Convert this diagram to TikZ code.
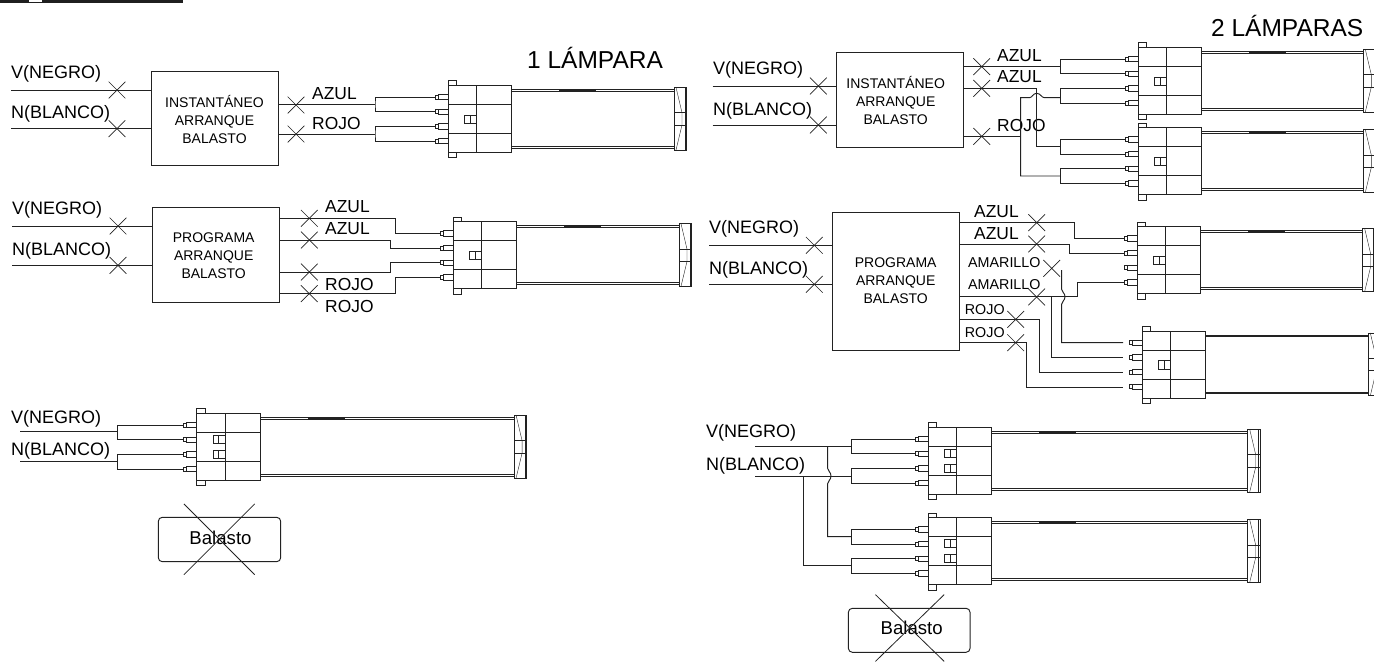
\documentclass[tikz,border=0pt]{standalone}
\usepackage{fontspec}
\setmainfont{Liberation Sans}
\usepackage{xcolor}
\usetikzlibrary{positioning, shapes.misc}

\definecolor{linea}{HTML}{222222}

\tikzset{
    cable/.style={draw=linea, line width=0.95pt},
    caja/.style={rectangle, draw=linea, line width=0.95pt, inner sep=0pt},
    corte/.style={cross out, draw=linea, line width=0.7pt, minimum width=16pt, minimum height=16pt, inner sep=0pt},
    tacha/.style={cross out, draw=linea, line width=0.8pt, minimum width=70pt, minimum height=70pt, inner sep=0pt},
    rotulo/.style={anchor=west, inner sep=0pt, text height=12.8pt, text depth=0pt, font=\fontsize{18}{18}\selectfont},
    medio/.style={anchor=west, inner sep=0pt, text height=12.4pt, text depth=0pt, font=\fontsize{17.4}{18}\selectfont},
    chico/.style={anchor=west, inner sep=0pt, text height=10.2pt, text depth=0pt, font=\fontsize{14.3}{18}\selectfont},
    titulo/.style={anchor=west, inner sep=0pt, text height=17pt, text depth=0pt, font=\fontsize{24.5}{24}\selectfont},
    rotbal/.style={align=center, inner sep=0pt, font=\fontsize{14}{18}\selectfont},
    pics/lampara/.style n args={2}{code={
        % cuerpo del conector
        \draw[cable] (0,0) rectangle (63.4,67);
        \draw[cable] (28.4,0) -- (28.4,67);
        \draw[cable] (0,19) -- (63.4,19);
        \draw[cable] (0,48) -- (63.4,48);
        \draw[cable] (0,-4.6) rectangle (8.4,0);
        \draw[cable] (0,67) rectangle (8.4,72.4);
        \foreach \y in {#2} {
            \draw[cable, line width=0.7pt] (16.4,\y) rectangle (28.4,\y+8.3);
            \draw[cable, line width=0.7pt] (22,\y) -- (22,\y+8.3);
        }
        % patas
        \foreach \i/\p in {1/11.7, 2/26.4, 3/41, 4/55.7} {
            \draw[cable, line width=0.7pt] (-13.3,\p-2) rectangle (-10,\p+2);
            \draw[cable, line width=0.7pt] (-10,\p-2.6) rectangle (0,\p+2.6);
            \coordinate (-p\i) at (-13.3,\p);
        }
        % tubo
        \draw[cable] (63.4,4) -- (63.4+#1,4);
        \draw[cable, line width=0.6pt] (63.4,5.6) -- (63.4+#1,5.6);
        \draw[cable, line width=1.3pt] (111,4.7) -- (148,4.7);
        \draw[cable] (63.4,61) -- (63.4+#1,61);
        \draw[cable, line width=0.6pt] (63.4,62.6) -- (63.4+#1,62.6);
        % tapa
        \draw[cable] (63.4+#1,2) rectangle (75.9+#1,64.7);
        \draw[cable] (74.4+#1,2) -- (74.4+#1,64.7);
        \draw[cable, line width=0.6pt] (63.4+#1,27.4) -- (75.9+#1,27.4);
        \draw[cable, line width=0.6pt] (63.4+#1,39.7) -- (75.9+#1,39.7);
        \draw[cable, line width=0.4pt] (65.4+#1,2) -- (71.4+#1,27.4) -- (71.4+#1,39.7) -- (65.4+#1,64.7);
    }},
}

\begin{document}
\begin{tikzpicture}[x=1pt, y=-1pt]
    \useasboundingbox (0,0) rectangle (1374,662);

    \fill[black!88] (0,0) rectangle (183,3);
    \fill[white] (29,0) rectangle (42,1.6);

    \node[titulo] (tit1) at (527,60) {1 LÁMPARA};
    \node[titulo] (tit2) at (1211,28) {2 LÁMPARAS};

    % lamparas
    \pic (L1) at (448.3,85.3) {lampara={162.3}{29.7}};
    \pic (L2) at (453.3,221.7) {lampara={162.3}{29.7}};
    \pic (L3) at (196.7,413.3) {lampara={254}{21.7,36.7}};
    \pic (L4) at (1138.3,47.3) {lampara={161.6}{29.7}};
    \pic (L5) at (1138.3,127.7) {lampara={161.6}{29.7}};
    \pic (L6) at (1137.3,226.7) {lampara={162}{29.7}};
    \pic (L7) at (1142.3,331) {lampara={162.6}{29.7}};
    \pic (L8) at (928.3,427.3) {lampara={256}{21.7,36.7}};
    \pic (L9) at (928.3,517.7) {lampara={256}{21.7,36.7}};

    % balastos
    \node[caja, minimum width=127pt, minimum height=94pt] (bal1) at (214.5,118) {};
    \node[caja, minimum width=126.6pt, minimum height=95.4pt] (bal2) at (216,255) {};
    \node[caja, minimum width=127.3pt, minimum height=94.6pt] (bal3) at (899.7,100) {};
    \node[caja, minimum width=127pt, minimum height=138.4pt] (bal4) at (895.8,281.5) {};
    \node[rotbal] (t1) at (214.5,119) {INSTANTÁNEO\\ARRANQUE\\BALASTO};
    \node[rotbal] (t2) at (213.7,255.4) {PROGRAMA\\ARRANQUE\\BALASTO};
    \node[rotbal] (t3) at (895.7,100.7) {INSTANTÁNEO\\ARRANQUE\\BALASTO};
    \node[rotbal] (t4) at (895.7,281) {PROGRAMA\\ARRANQUE\\BALASTO};

    % 1 lampara, instantaneo
    \node[rotulo] (v1) at (11,72) {V(NEGRO)};
    \node[rotulo] (n1) at (11,112) {N(BLANCO)};
    \node[medio] (az1) at (312,93) {AZUL};
    \node[medio] (ro1) at (312,123) {ROJO};
    \coordinate (iv1) at (11,90);
    \coordinate (in1) at (11,128.7);
    \coordinate (h1) at (375,104.3);
    \coordinate (h2) at (375,134);
    \draw[cable] (iv1) -- (iv1 -| bal1.west);
    \draw[cable] (in1) -- (in1 -| bal1.west);
    \draw[cable] (L1-p1) -| (h1) |- (L1-p2);
    \draw[cable] (L1-p3) -| (h2) |- (L1-p4);
    \draw[cable] (bal1.east |- h1) -- (h1);
    \draw[cable] (bal1.east |- h2) -- (h2);
    \node[corte] (c1) at (117,90) {};
    \node[corte] (c2) at (117,128.7) {};
    \node[corte] (c3) at (296,105) {};
    \node[corte] (c4) at (296,134) {};

    % 1 lampara, programa
    \node[rotulo] (v2) at (12,208) {V(NEGRO)};
    \node[rotulo] (n2) at (12,249) {N(BLANCO)};
    \node[medio] (az2) at (325,206.7) {AZUL};
    \node[medio] (az3) at (325,228.3) {AZUL};
    \node[medio] (ro2) at (325,284.3) {ROJO};
    \node[medio] (ro3) at (325,306) {ROJO};
    \coordinate (iv2) at (12,226);
    \coordinate (in2) at (12,265.3);
    \draw[cable] (iv2) -- (iv2 -| bal2.west);
    \draw[cable] (in2) -- (in2 -| bal2.west);
    \node[corte] (c5) at (118,226) {};
    \node[corte] (c6) at (118,265.3) {};
    \node[corte] (c7) at (309.3,218.3) {};
    \node[corte] (c8) at (309.3,240) {};
    \node[corte] (c9) at (309.3,272) {};
    \node[corte] (c10) at (309.3,293.6) {};
    \draw[cable] (bal2.east |- c7) -- (395,218.3) |- (L2-p1);
    \draw[cable] (bal2.east |- c8) -- (390,240) |- (L2-p2);
    \draw[cable] (bal2.east |- c9) -- (390,272) |- (L2-p3);
    \draw[cable] (bal2.east |- c10) -- (395,293.6) |- (L2-p4);

    % 1 lampara, sin balasto
    \node[rotulo] (v3) at (11,417.3) {V(NEGRO)};
    \node[rotulo] (n3) at (11,449) {N(BLANCO)};
    \coordinate (iv3) at (20,431.7);
    \coordinate (in3) at (20,461);
    \coordinate (h3) at (117.3,431.7);
    \coordinate (h4) at (117.3,461);
    \draw[cable] (iv3) -- (h3);
    \draw[cable] (in3) -- (h4);
    \draw[cable] (L3-p1) -| (h3) |- (L3-p2);
    \draw[cable] (L3-p3) -| (h4) |- (L3-p4);
    \node[caja, rounded corners=4pt, minimum width=122.4pt, minimum height=44.4pt] (bal5) at (219.5,539.5) {};
    \node[rotulo, anchor=center, font=\fontsize{18.6}{18}\selectfont] (b1) at (220.5,538.5) {Balasto};
    \node[tacha] (x1) at (219.3,539.3) {};

    % 2 lamparas, instantaneo
    \node[rotulo] (v4) at (713,68) {V(NEGRO)};
    \node[rotulo] (n4) at (713,109) {N(BLANCO)};
    \node[medio] (az4) at (997,55) {AZUL};
    \node[medio] (az5) at (997,76.7) {AZUL};
    \node[medio] (ro4) at (997,125) {ROJO};
    \coordinate (iv4) at (712.7,86);
    \coordinate (in4) at (712.7,125);
    \coordinate (h5) at (1060,66.7);
    \coordinate (h6) at (1060,97.7);
    \coordinate (h7) at (1060,146.7);
    \coordinate (h8) at (1060,176);
    \draw[cable] (iv4) -- (iv4 -| bal3.west);
    \draw[cable] (in4) -- (in4 -| bal3.west);
    \draw[cable] (L4-p1) -| (h5) |- (L4-p2);
    \draw[cable] (L4-p3) -| (h6) |- (L4-p4);
    \draw[cable] (L5-p1) -| (h7) |- (L5-p2);
    \draw[cable] (L5-p3) -| (h8) |- (L5-p4);
    \draw[cable] (bal3.east |- h5) -- (h5);
    \draw[cable] (bal3.east |- 0,88.3) -- (1036.7,88.3) |- (h7);
    \draw[cable] (bal3.east |- 0,136.4) -- (1020.7,136.4);
    \draw[cable] (h8) -- (1020.7,176) -- (1020.7,97.7) -- (1029.5,97.7) .. controls (1032,97.7) and (1033,93.3) .. (1036.7,93.3) .. controls (1040.5,93.3) and (1041.5,97.7) .. (1044.5,97.7) -- (h6);
    \node[corte] (c11) at (818.3,86) {};
    \node[corte] (c12) at (818.3,125) {};
    \node[corte] (c13) at (981.7,66.7) {};
    \node[corte] (c14) at (981.7,88.3) {};
    \node[corte] (c15) at (981.7,136.4) {};

    % 2 lamparas, programa
    \node[rotulo] (v5) at (709,227.3) {V(NEGRO)};
    \node[rotulo] (n5) at (709,268.3) {N(BLANCO)};
    \node[medio] (az6) at (974,211) {AZUL};
    \node[medio] (az7) at (974,233.3) {AZUL};
    \node[chico] (am1) at (968,262.7) {AMARILLO};
    \node[chico] (am2) at (968,284) {AMARILLO};
    \node[chico] (ro5) at (964.7,309) {ROJO};
    \node[chico] (ro6) at (964.7,332.7) {ROJO};
    \coordinate (iv5) at (709,245.3);
    \coordinate (in5) at (709,284.3);
    \coordinate (ia1) at (1061.7,270);
    \coordinate (f1) at (1123,342.7);
    \coordinate (f2) at (1123,357.7);
    \coordinate (f3) at (1123,372.5);
    \coordinate (f4) at (1123,387.4);
    \draw[cable] (iv5) -- (iv5 -| bal4.west);
    \draw[cable] (in5) -- (in5 -| bal4.west);
    \draw[cable] (bal4.east |- 0,222.7) -- (1074.3,222.7) |- (L6-p1);
    \draw[cable] (bal4.east |- 0,244) -- (1069.3,244) |- (L6-p2);
    \draw[cable] (bal4.east |- 0,296.7) -- (1077.3,296.7) |- (L6-p4);
    \draw[cable] (1051,296.7) |- (f2);
    \draw[cable] (ia1) -- (1061.7,289.5) .. controls (1061.7,292) and (1065,293) .. (1065,296.7) .. controls (1065,300.5) and (1061.7,301.5) .. (1061.7,304) |- (f1);
    \draw[cable] (bal4.east |- 0,319.3) -- (1039.3,319.3) |- (f3);
    \draw[cable] (bal4.east |- 0,342.7) -- (1026,342.7) |- (f4);
    \node[corte] (c16) at (814.3,245.3) {};
    \node[corte] (c17) at (814.3,284.3) {};
    \node[corte] (c18) at (1036.7,222.7) {};
    \node[corte] (c19) at (1036.7,244) {};
    \node[corte] (c20) at (1051.7,268.3) {};
    \node[corte] (c21) at (1036.7,297) {};
    \node[corte] (c22) at (1015.7,319.3) {};
    \node[corte] (c23) at (1015.7,342.7) {};

    % 2 lamparas, sin balasto
    \node[rotulo] (v6) at (706,431) {V(NEGRO)};
    \node[rotulo] (n6) at (706,464.3) {N(BLANCO)};
    \coordinate (iv6) at (755,446);
    \coordinate (in6) at (755,476);
    \coordinate (h9) at (851.7,446);
    \coordinate (h10) at (851.7,476);
    \coordinate (h11) at (851.7,536.7);
    \coordinate (h12) at (851.7,565.7);
    \draw[cable] (iv6) -- (h9);
    \draw[cable] (in6) -- (h10);
    \draw[cable] (L8-p1) -| (h9) |- (L8-p2);
    \draw[cable] (L8-p3) -| (h10) |- (L8-p4);
    \draw[cable] (L9-p1) -| (h11) |- (L9-p2);
    \draw[cable] (L9-p3) -| (h12) |- (L9-p4);
    \draw[cable] (827.7,446) -- (827.7,468.5) .. controls (827.7,471) and (831,472) .. (831,476) .. controls (831,480) and (827.7,481) .. (827.7,483.5) |- (h11);
    \draw[cable] (803.3,476) |- (h12);
    \node[caja, rounded corners=4pt, minimum width=121.7pt, minimum height=44pt] (bal6) at (909.2,630.3) {};
    \node[rotulo, anchor=center, font=\fontsize{18.6}{18}\selectfont] (b2) at (911.7,628.3) {Balasto};
    \node[tacha, minimum width=68pt, minimum height=66pt] (x2) at (909.8,628) {};
\end{tikzpicture}
\end{document}
